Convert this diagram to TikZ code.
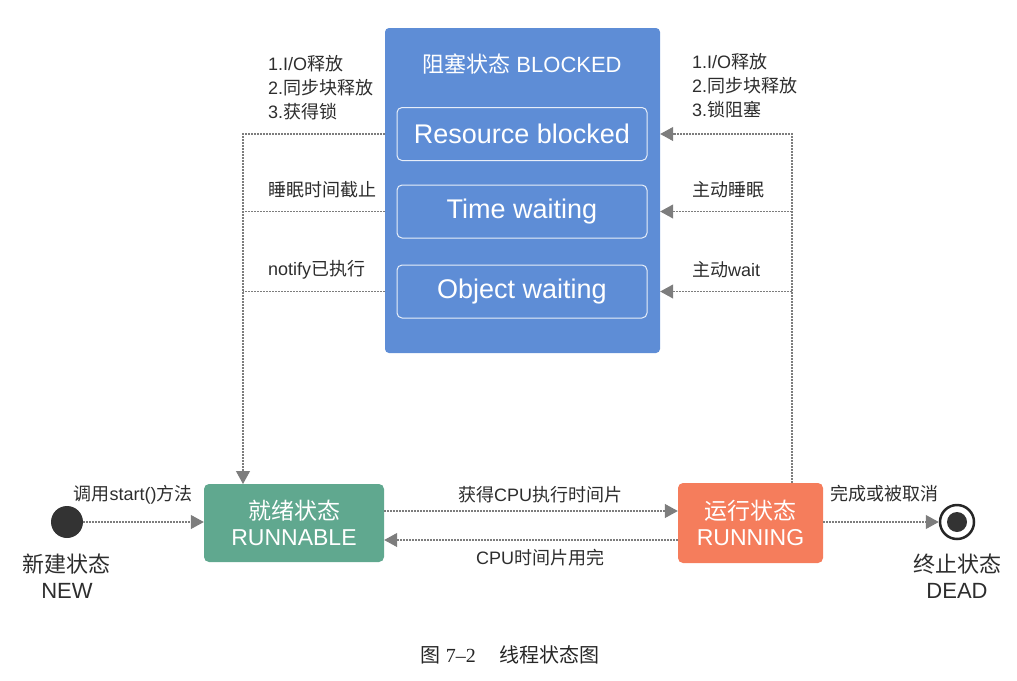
\documentclass[tikz,border=0pt]{standalone}
\usepackage{fontspec}
\setmainfont{Liberation Sans}
\newfontfamily\cjk{Noto Sans CJK SC}
\newfontfamily\capserif{Liberation Serif}
\usetikzlibrary{positioning,arrows.meta}

\newcommand{\zhtext}[1]{{\cjk #1}}

\definecolor{blockblue}{RGB}{94,141,214}
\definecolor{readygreen}{RGB}{96,168,143}
\definecolor{runorange}{RGB}{245,125,92}
\definecolor{linegray}{RGB}{125,125,125}
\definecolor{labelgray}{RGB}{45,45,45}

\tikzset{
  blockbox/.style={fill=blockblue, rounded corners=4pt, minimum width=275pt, minimum height=325pt, inner sep=0pt},
  waitbox/.style={draw=white!85!blockblue, line width=1pt, rounded corners=5pt, minimum width=250pt, minimum height=53pt,
    text=white, font=\fontsize{27}{30}\selectfont},
  statebox/.style={rounded corners=5pt, text=white, align=center, font=\fontsize{23}{26}\selectfont, inner sep=0pt},
  conn/.style={draw=linegray, line width=1.1pt, dash pattern=on 2pt off 1pt},
  flow/.style={conn, -{Triangle[length=13pt,width=14pt,fill=linegray]}},
  lbl/.style={text=labelgray, font=\fontsize{18}{24}\selectfont, inner sep=0pt, align=left},
  stname/.style={text=labelgray, font=\fontsize{22}{26}\selectfont, align=center, inner sep=0pt}
}

\begin{document}
\begin{tikzpicture}[x=1pt, y=-1pt]
  \useasboundingbox (0,0) rectangle (1017,680);

  % blocked state with its three kinds of waiting
  \node[blockbox] (blocked) at (522.5,190.5) {};
  \node[text=white, font=\fontsize{22}{26}\selectfont] (btitle) at (522,64) {\zhtext{阻塞状态} BLOCKED};
  \node[waitbox] (res) at (522,134) {Resource blocked};
  \node[waitbox] (tw) at (522,211.5) {Time waiting};
  \node[waitbox] (ow) at (522,291.5) {Object waiting};

  % states in the bottom row
  \node[statebox, fill=readygreen, minimum width=180pt, minimum height=78pt] (runnable) at (294,523) {\zhtext{就绪状态}\\RUNNABLE};
  \node[statebox, fill=runorange, minimum width=145pt, minimum height=80pt] (running) at (750.5,523) {\zhtext{运行状态}\\RUNNING};

  \node[circle, fill=black!80, minimum size=32pt, inner sep=0pt] (new) at (67,522) {};
  \node[stname, below=32pt of new.center, anchor=north] (newlbl) {\zhtext{新建状态}\\NEW};

  \node[circle, draw=black!85, line width=2.5pt, minimum size=34pt, inner sep=0pt] (dead) at (957,522) {};
  \node[circle, fill=black!80, minimum size=20pt, inner sep=0pt] (deadcore) at (dead.center) {};
  \node[stname, below=32pt of dead.center, anchor=north] (deadlbl) {\zhtext{终止状态}\\DEAD};

  % turning points of the side connectors
  \coordinate (lx) at (243,484);
  \coordinate (rx) at (792,483);

  % back to runnable on the left
  \draw[flow] (blocked.west |- res) -| (lx);
  \draw[conn] (blocked.west |- tw) -- (tw -| lx);
  \draw[conn] (blocked.west |- ow) -- (ow -| lx);
  \node[lbl, anchor=north west] (lres) at (268,55) {1.I/O\zhtext{释放}\\2.\zhtext{同步块释放}\\3.\zhtext{获得锁}};
  \node[lbl, anchor=west] (ltw) at (268,190) {\zhtext{睡眠时间截止}};
  \node[lbl, anchor=west] (low) at (268,270) {notify\zhtext{已执行}};

  % from running up to blocked on the right
  \draw[flow] (rx) |- (blocked.east |- res);
  \draw[flow] (tw -| rx) -- (blocked.east |- tw);
  \draw[flow] (ow -| rx) -- (blocked.east |- ow);
  \node[lbl, anchor=north west] (rres) at (692,53) {1.I/O\zhtext{释放}\\2.\zhtext{同步块释放}\\3.\zhtext{锁阻塞}};
  \node[lbl, anchor=west] (rtw) at (692,190) {\zhtext{主动睡眠}};
  \node[lbl, anchor=west] (row) at (692,270) {\zhtext{主动}wait};

  % bottom row transitions
  \draw[flow] (new) -- (runnable.west |- new);
  \node[lbl] (lstart) at (133,495) {\zhtext{调用}start()\zhtext{方法}};
  \draw[flow] ([yshift=12pt]runnable.east) -- ([yshift=12pt]running.west);
  \node[lbl] (lcpu) at (540,495) {\zhtext{获得}CPU\zhtext{执行时间片}};
  \draw[flow] ([yshift=-17pt]running.west) -- ([yshift=-17pt]runnable.east);
  \node[lbl] (lcpuend) at (540,558) {CPU\zhtext{时间片用完}};
  \draw[flow] (running.east |- dead) -- (dead);
  \node[lbl] (ldone) at (884,494) {\zhtext{完成或被取消}};

  % caption
  \node[text=black!85, font=\fontsize{20}{24}\selectfont] (caption) at (510,655) {\zhtext{图} {\capserif 7–2}\hspace{24pt}\zhtext{线程状态图}};
\end{tikzpicture}
\end{document}
